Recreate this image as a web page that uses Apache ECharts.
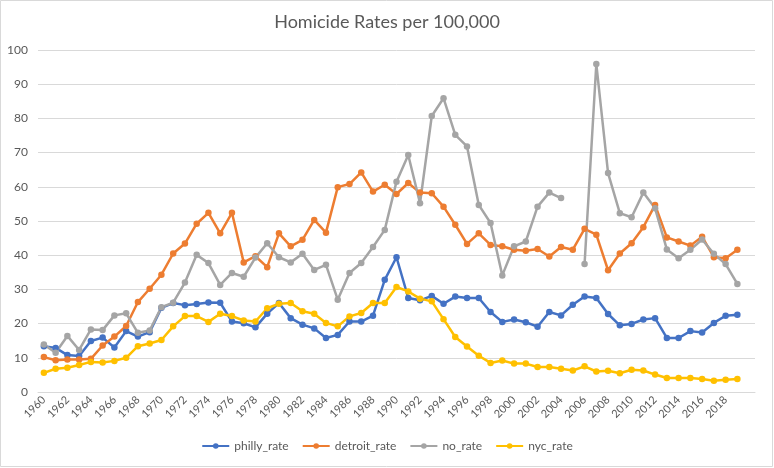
<!DOCTYPE html>
<html><head><meta charset="utf-8">
<script src="https://cdn.jsdelivr.net/npm/echarts@6/dist/echarts.min.js"></script>
<style>html,body{margin:0;padding:0;background:#fff}#c{width:774px;height:468px}</style>
</head><body><div id="c"></div>
<script>
const years = [];
for (let y = 1960; y <= 2019; y++) years.push(String(y));
years.push('');

const philly = [13.4,12.9,10.8,10.5,14.9,15.9,13.0,17.8,16.2,17.5,24.6,26.0,25.4,25.7,26.2,26.1,20.6,20.1,18.9,22.9,26.0,21.6,19.7,18.6,15.8,16.7,20.6,20.6,22.3,32.8,39.4,27.5,26.8,28.1,25.8,27.9,27.5,27.5,23.4,20.5,21.2,20.4,19.1,23.4,22.4,25.5,27.9,27.5,22.8,19.5,19.9,21.2,21.6,15.8,15.8,17.8,17.4,20.2,22.3,22.6];
const detroit = [10.2,9.3,9.5,9.5,9.7,13.6,16.2,19.3,26.3,30.2,34.3,40.5,43.4,49.2,52.4,46.4,52.4,37.9,39.7,36.5,46.4,42.6,44.5,50.3,46.6,59.9,60.8,64.2,58.6,60.6,57.9,61.1,58.3,58.1,54.2,48.9,43.3,46.4,43.0,42.6,41.6,41.3,41.8,39.6,42.4,41.6,47.7,46.0,35.6,40.5,43.5,48.2,54.7,45.2,44.0,42.8,45.4,39.4,39.1,41.6];
const noRate = [13.9,11.5,16.4,12.3,18.3,18.1,22.4,23.0,17.3,18.0,24.8,26.1,32.0,40.1,37.7,31.3,34.8,33.7,39.3,43.5,39.4,37.9,40.4,35.7,37.2,27.0,34.8,37.7,42.4,47.4,61.5,69.3,55.2,80.7,85.9,75.2,71.8,54.7,49.4,34.1,42.6,44.0,54.2,58.3,56.7,null,37.4,95.9,64.0,52.3,51.1,58.3,53.7,41.7,39.1,41.6,44.6,40.4,37.4,31.6];
const nyc = [5.6,6.8,7.1,7.9,8.8,8.6,9.1,10.0,13.4,14.2,15.2,19.2,22.2,22.2,20.5,22.9,22.2,20.9,20.6,24.5,25.8,26.0,23.6,22.9,20.2,19.2,22.1,23.1,26.0,26.0,30.7,29.4,27.3,26.5,21.3,16.1,13.3,10.6,8.5,9.2,8.3,8.3,7.3,7.3,6.8,6.3,7.5,6.0,6.2,5.5,6.5,6.3,5.1,4.1,4.1,4.1,3.8,3.3,3.6,3.8];

const seriesNames = ['philly_rate','detroit_rate','no_rate','nyc_rate'];
const seriesData = [philly, detroit, noRate, nyc];
const colors = ['#4472C4','#ED7D31','#A5A5A5','#FFC000'];
const FONT = 'Lato, "Open Sans", sans-serif';

const chart = echarts.init(document.getElementById('c'), null, {renderer:'canvas'});
chart.setOption({
  animation:false,
  backgroundColor:'#fff',
  color: colors,
  title:{
    text:'Homicide Rates per 100,000', left:'center', top:8,
    textStyle:{fontFamily:FONT, fontSize:18, fontWeight:'normal', color:'#595959'}
  },
  legend:{
    bottom:11, left:'center', itemWidth:27, itemHeight:7, itemGap:13,
    textStyle:{fontFamily:FONT, fontSize:12, color:'#595959'},
    data: seriesNames
  },
  grid:{left:38, right:19, top:50, bottom:76, containLabel:false},
  xAxis:{
    type:'category', data:years, boundaryGap:true,
    axisLine:{lineStyle:{color:'#D9D9D9'}},
    axisTick:{show:false},
    axisLabel:{interval:1, rotate:45, fontFamily:FONT, fontSize:11, color:'#595959', margin:6}
  },
  yAxis:{
    type:'value', min:0, max:100, interval:10,
    axisLine:{show:false}, axisTick:{show:false},
    splitLine:{lineStyle:{color:'#D9D9D9', width:1}},
    axisLabel:{fontFamily:FONT, fontSize:12, color:'#595959', margin:10}
  },
  graphic:[{type:'rect', shape:{x:0.5,y:0.5,width:772,height:466}, style:{fill:'none', stroke:'#D9D9D9', lineWidth:1}, silent:true}],
  series: seriesNames.map((n,i)=>({
    name:n, type:'line', data:seriesData[i],
    symbol:'circle', symbolSize:6.5, showSymbol:true,
    lineStyle:{width:2.5, color:colors[i]},
    itemStyle:{color:colors[i]},
    connectNulls:false
  }))
});
</script></body></html>
